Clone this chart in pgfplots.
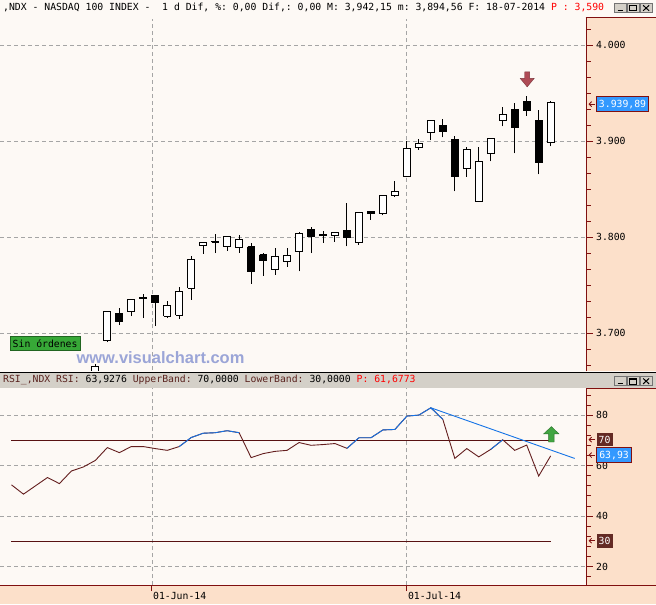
\documentclass[border=0pt]{standalone}
\usepackage{fontspec}
\setmonofont{DejaVu Sans Mono}
\newfontfamily\wmfont{Liberation Sans}
\usepackage{pgfplots}
\pgfplotsset{compat=1.18}
\usetikzlibrary{arrows.meta}

\definecolor{bgc}{RGB}{253,249,245}
\definecolor{peach}{RGB}{252,224,202}
\definecolor{axred}{RGB}{128,16,16}
\definecolor{barg}{RGB}{212,208,200}
\definecolor{rsibrown}{RGB}{100,30,30}
\definecolor{band}{RGB}{88,18,18}
\definecolor{rsiblue}{RGB}{20,115,230}
\definecolor{valblue}{RGB}{51,153,255}
\definecolor{valbrown}{RGB}{100,42,36}
\definecolor{gridc}{RGB}{165,165,165}
\definecolor{wmc}{RGB}{155,165,215}
\definecolor{sing}{RGB}{55,168,55}
\definecolor{arrred}{RGB}{175,75,85}
\definecolor{arrgreen}{RGB}{65,165,65}
\definecolor{lblbrown}{RGB}{90,35,30}

\newcommand\tfont{\ttfamily\fontsize{9.8}{11}\selectfont}

% one candle: k, open, high, low, close
\newcommand\candle[5]{%
  \pgfmathsetmacro\candleL{#1-0.3}%
  \pgfmathsetmacro\candleR{#1+0.3}%
  \ifdim #5pt<#2pt \def\candleFill{black}\else\def\candleFill{white}\fi
  \edef\candleDo{%
    \noexpand\addplot[black, line width=1pt, forget plot] coordinates {(#1,#4) (#1,#3)};%
    \noexpand\addplot[draw=black, fill=\candleFill, line width=1pt, forget plot]
      coordinates {(\candleL,#2) (\candleR,#2) (\candleR,#5) (\candleL,#5) (\candleL,#2)};%
  }%
  \candleDo}

% window buttons, #1 = top edge
\newcommand\winbtns[1]{%
  \begin{scope}[shift={(615,#1)}]
    \foreach \i in {0,1,2} {
      \fill[barg] (\i*12.8,0) rectangle ++(12,-9);
      \draw[black!55, line width=0.5pt] (\i*12.8,0) rectangle ++(12,-9);
    }
    \draw[line width=1.5pt] (3,-7) -- (8,-7);
    \draw[line width=0.7pt] (15.3,-2) rectangle (22.3,-7.5);
    \draw[line width=1.4pt] (15.3,-2.4) -- (22.3,-2.4);
    \draw[line width=1pt] (28.6,-2) -- (34.6,-7.5) (34.6,-2) -- (28.6,-7.5);
  \end{scope}}

\begin{document}
\begin{tikzpicture}
\begin{scope}[x=1pt,y=1pt]
  \fill[bgc] (0,0) rectangle (656,605);
  \fill[peach] (587,233) rectangle (656,588);
  \fill[peach] (587,19) rectangle (656,216);
  \fill[peach] (0,0) rectangle (656,19);
  \fill[barg] (0,216) rectangle (656,232);
  \draw[black, line width=1pt] (0,231.5) -- (656,231.5);
  \draw[axred, line width=1pt] (586,587.5) -- (656,587.5);
  \draw[axred, line width=1pt] (587,233) -- (587,588);
  \draw[axred, line width=1pt] (587,216) -- (656,216);
  \draw[axred, line width=1pt] (587,19) -- (587,216);
  \draw[axred, line width=1pt] (0,19) -- (656,19);
\end{scope}

% ---------- price panel ----------
\begin{axis}[
  at={(0pt,234pt)}, anchor=south west,
  scale only axis, width=587pt, height=352pt,
  xmin=-7.9167, xmax=41, ymin=3661.4, ymax=4027.3,
  axis line style={draw=none},
  xtick={4.725,26}, xticklabels={}, major x tick style={draw=none},
  xmajorgrids, ymajorgrids,
  grid style={gridc, dash pattern=on 4pt off 3pt, line width=0.8pt},
  ytick pos=right, yticklabel pos=right,
  ytick={3700,3800,3900,4000}, yticklabels={3.700,3.800,3.900,4.000},
  minor ytick={3666.67,3683.33,3716.67,3733.33,3750,3766.67,3783.33,3816.67,3833.33,3850,3866.67,3883.33,3916.67,3933.33,3950,3966.67,3983.33,4016.67},
  tick align=outside, major tick length=6pt, minor tick length=4pt,
  tick style={axred, line width=1pt},
  yticklabel style={font=\tfont, black},
]
\candle{0}{3640}{3668}{3630}{3666}
\candle{1}{3692.3}{3722.4}{3690.9}{3722.4}
\candle{2}{3720.7}{3726.6}{3708.5}{3712.7}
\candle{3}{3722.4}{3735.0}{3717.9}{3734.9}
\candle{4}{3737.8}{3741.2}{3715.8}{3736.8}
\candle{5}{3739.7}{3740.0}{3707.5}{3732.4}
\candle{6}{3717.9}{3734.2}{3715.8}{3729.3}
\candle{7}{3718.9}{3748.7}{3714.8}{3743.2}
\candle{8}{3747.0}{3781.0}{3735.2}{3776.5}
\candle{9}{3791.1}{3794.5}{3782.7}{3794.2}
\candle{10}{3795.0}{3803.5}{3783.4}{3795.8}
\candle{11}{3790.0}{3800.6}{3786.2}{3800.4}
\candle{12}{3789.0}{3802.8}{3784.1}{3797.3}
\candle{13}{3790.0}{3794.2}{3751.6}{3764.0}
\candle{14}{3781.7}{3784.1}{3759.9}{3775.5}
\candle{15}{3766.7}{3788.6}{3761.2}{3779.6}
\candle{16}{3774.4}{3789.0}{3769.5}{3780.7}
\candle{17}{3785.1}{3805.6}{3764.4}{3803.5}
\candle{18}{3807.7}{3811.1}{3783.4}{3800.7}
\candle{19}{3802.0}{3806.7}{3794.2}{3802.8}
\candle{20}{3801.5}{3805.0}{3795.2}{3804.6}
\candle{21}{3806.7}{3836.0}{3790.6}{3799.4}
\candle{22}{3794.5}{3826.5}{3792.1}{3826.0}
\candle{23}{3826.4}{3826.6}{3818.4}{3825.0}
\candle{24}{3824.3}{3843.1}{3822.9}{3843.0}
\candle{25}{3843.0}{3858.9}{3842.3}{3847.8}
\candle{26}{3862.8}{3900.5}{3862.5}{3892.9}
\candle{27}{3894.0}{3902.6}{3890.9}{3898.1}
\candle{28}{3909.6}{3922.1}{3900.8}{3922.0}
\candle{29}{3916.8}{3923.4}{3904.0}{3910.6}
\candle{30}{3902.3}{3905.7}{3847.8}{3863.8}
\candle{31}{3872.1}{3894.0}{3862.8}{3891.9}
\candle{32}{3836.8}{3894.0}{3836.8}{3879.4}
\candle{33}{3887.7}{3903.3}{3879.0}{3903.3}
\candle{34}{3922.0}{3935.6}{3915.4}{3928.3}
\candle{35}{3933.5}{3939.7}{3887.3}{3914.3}
\candle{36}{3941.8}{3946.6}{3926.8}{3932.0}
\candle{37}{3921.3}{3932.7}{3865.5}{3878.0}
\candle{38}{3898.4}{3942.15}{3894.56}{3939.89}
\end{axis}

% ---------- RSI panel ----------
\begin{axis}[
  at={(0pt,19pt)}, anchor=south west,
  scale only axis, width=587pt, height=197pt,
  xmin=-7.9167, xmax=41, ymin=12.59, ymax=90.70,
  axis line style={draw=none},
  xtick={4.725,26}, xticklabels={01-Jun-14,01-Jul-14},
  xtick pos=bottom,
  xmajorgrids, ymajorgrids,
  grid style={gridc, dash pattern=on 4pt off 3pt, line width=0.8pt},
  ytick pos=right, yticklabel pos=right,
  ytick={20,40,60,80}, yticklabels={20,40,60,80},
  minor ytick={16,24,28,32,36,44,48,52,56,64,68,72,76,84,88},
  tick align=outside, major tick length=6pt, minor tick length=4pt,
  tick style={axred, line width=1pt},
  yticklabel style={font=\tfont, black},
  xticklabel style={font=\tfont, black, anchor=north west, inner sep=1pt},
]
\addplot[band, line width=1.2pt] coordinates {(-7,70) (38,70)};
\addplot[band, line width=1.2pt] coordinates {(-7,30) (38,30)};
\addplot[rsibrown, line width=0.9pt] coordinates {
  (-7,52.4) (-6,48.7) (-5,52.0) (-4,55.3) (-3,52.9) (-2,57.9) (-1,59.5) (0,62.1)
  (1,67.2) (2,65.2) (3,67.6) (4,67.6) (5,66.8) (6,66.1) (7,67.6) (8,71.2) (9,72.9)
  (10,73.1) (11,73.9) (12,73.1) (13,63.2) (14,64.8) (15,65.7) (16,66.1) (17,69.2)
  (18,68.1) (19,68.4) (20,68.8) (21,66.9) (22,71.1) (23,71.1) (24,74.2) (25,74.4)
  (26,79.7) (27,80.1) (28,83.0) (29,78.4) (30,62.9) (31,66.8) (32,63.5) (33,66.5)
  (34,70.3) (35,66.1) (36,68.2) (37,55.9) (38,63.9)};
\addplot[rsiblue, line width=0.9pt] coordinates {
  (7,67.6) (8,71.2) (9,72.9) (10,73.1) (11,73.9) (12,73.1)};
\addplot[rsiblue, line width=0.9pt] coordinates {
  (21,66.9) (22,71.1) (23,71.1) (24,74.2) (25,74.4) (26,79.7) (27,80.1) (28,83.0) (29,78.4)};
\addplot[rsiblue, line width=0.9pt] coordinates {(33,66.5) (34,70.3)};
% trend line
\addplot[rsiblue, line width=0.9pt] coordinates {(28,83.0) (40,62.9)};
\end{axis}

% ---------- annotations ----------
\begin{scope}[x=1pt,y=1pt]
  % title bars
  \node[anchor=west, inner sep=0pt, font=\tfont] at (2.5,597.8)
    {,NDX - NASDAQ 100 INDEX -\ \ 1 d Dif, \%: 0,00 Dif,: 0,00 M: 3,942,15 m: 3,894,56 F: 18-07-2014 \textcolor{red}{P : 3,590}};
  \node[anchor=west, inner sep=0pt, font=\tfont] at (2.5,224)
    {\textcolor{lblbrown}{RSI\_,NDX RSI:} 63,9276 \textcolor{lblbrown}{UpperBand:} 70,0000 \textcolor{lblbrown}{LowerBand:} 30,0000 \textcolor{red}{P: 61,6773}};
  \winbtns{601.7}
  \winbtns{228}
  % value flags on the right scales
  \node[fill=valblue, draw=axred, line width=0.8pt, text=white, font=\tfont, inner sep=0pt,
        minimum width=52pt, minimum height=15pt] at (623,500.7) {3.939,89};
  \node[fill=valbrown, text=white, font=\tfont, inner sep=0pt,
        minimum width=16pt, minimum height=13.5pt] at (605,164.7) {70};
  \node[fill=valblue, draw=axred, line width=0.8pt, text=white, font=\tfont, inner sep=0pt,
        minimum width=35pt, minimum height=15pt] at (614.5,149.2) {63,93};
  \node[fill=valbrown, text=white, font=\tfont, inner sep=0pt,
        minimum width=16pt, minimum height=14pt] at (605,63.5) {30};
  \foreach \yy in {500.7,164.7,149.2,63.5}
    \draw[axred, line width=0.8pt, -{Straight Barb[length=2.5pt,width=5pt]}] (595.5,\yy) -- (589,\yy);
  % arrows
  \fill[arrred, draw=arrred!70!black, line width=0.4pt]
    (525,533) -- (530,533) -- (530,526.5) -- (534.5,526.5) -- (527.5,518) -- (520.5,526.5) -- (525,526.5) -- cycle;
  \fill[arrgreen, draw=arrgreen!70!black, line width=0.4pt]
    (551.7,177.7) -- (559.3,170.5) -- (554.5,170.5) -- (554.5,162.3) -- (549,162.3) -- (549,170.5) -- (544,170.5) -- cycle;
  % watermark and order box
  \node[anchor=west, inner sep=0pt, text=wmc, font=\wmfont\bfseries\fontsize{16.5}{17}\selectfont] at (76,247) {www.visualchart.com};
  \node[fill=sing, draw=sing!60!black, line width=0.6pt, font=\tfont, inner sep=0pt,
        minimum width=70.7pt, minimum height=14.3pt] at (44.7,261.2) {Sin órdenes};
\end{scope}
\end{tikzpicture}
\end{document}
